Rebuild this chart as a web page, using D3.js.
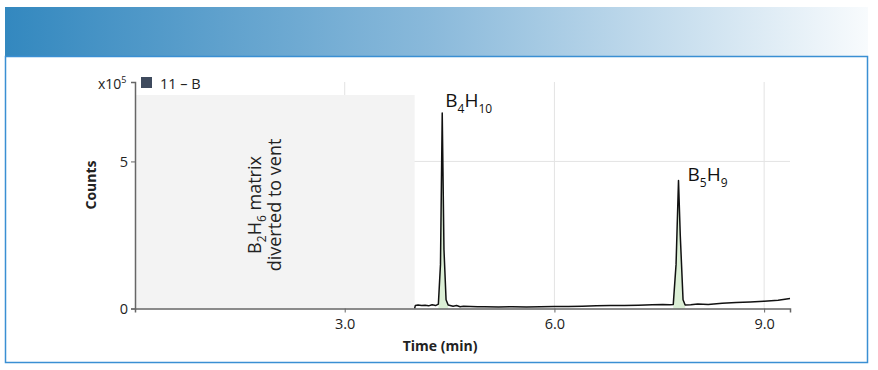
<!DOCTYPE html>
<html>
<head>
<meta charset="utf-8">
<script src="https://cdn.jsdelivr.net/npm/d3@7"></script>
<style>
  body { margin: 0; background: #fff; }
  #chart { display: block; font-family: "Open Sans", sans-serif; }
</style>
</head>
<body>
<svg id="chart" width="878" height="370"></svg>
<script>
  // retention time (min) and detector counts (x10^5)
  const time = [4.00, 4.01, 4.05, 4.10, 4.15, 4.20, 4.25, 4.30, 4.34, 4.37, 4.395, 4.42, 4.45, 4.48,
    4.55, 4.60, 4.65, 4.70, 4.80, 4.90, 5.00, 5.20, 5.40, 5.60, 5.80, 6.00, 6.20, 6.40, 6.60, 6.80,
    7.00, 7.20, 7.40, 7.55, 7.65, 7.70, 7.74, 7.775, 7.80, 7.84, 7.87, 7.95, 8.05, 8.20, 8.40, 8.60,
    8.80, 9.00, 9.20, 9.37];
  const counts = [0.0, 0.10, 0.12, 0.10, 0.11, 0.09, 0.13, 0.10, 0.15, 1.5, 6.65, 2.0, 0.3, 0.12,
    0.08, 0.10, 0.06, 0.08, 0.07, 0.06, 0.06, 0.05, 0.06, 0.05, 0.06, 0.07, 0.07, 0.08, 0.09, 0.10,
    0.10, 0.11, 0.13, 0.14, 0.13, 0.14, 1.5, 4.35, 2.5, 0.3, 0.12, 0.13, 0.15, 0.14, 0.18, 0.20,
    0.22, 0.25, 0.28, 0.34];

  const peakNames = [['B', '4', 'H', '10'], ['B', '5', 'H', '9']];
  const peakTimes = [4.395, 7.775];
  const peakWindows = [[4.34, 4.48], [7.70, 7.87]];

  const xTicks = [3.0, 6.0, 9.0];
  const yTicks = [0, 5];
  const ventWindow = [0, 4.0];
  const seriesName = '11 – B';

  const svg = d3.select('#chart');

  // header band and frame
  const grad = svg.append('defs').append('linearGradient').attr('id', 'band');
  grad.append('stop').attr('offset', '0%').attr('stop-color', '#3388bf');
  grad.append('stop').attr('offset', '50%').attr('stop-color', '#8bbadb');
  grad.append('stop').attr('offset', '100%').attr('stop-color', '#f8fbfd');
  svg.append('rect').attr('x', 5).attr('y', 7).attr('width', 863).attr('height', 50)
     .attr('fill', 'url(#band)');
  svg.append('rect').attr('x', 5.5).attr('y', 56.5).attr('width', 862).attr('height', 306)
     .attr('fill', 'none').attr('stroke', '#3a8fd3').attr('stroke-width', 1.5);

  const x = d3.scaleLinear().domain([0, 9.37]).range([135, 790]);
  const y = d3.scaleLinear().domain([0, 7.7]).range([308.5, 82]);

  // grid
  svg.append('g').selectAll('line').data(xTicks).enter().append('line')
     .attr('x1', d => x(d)).attr('x2', d => x(d)).attr('y1', y.range()[1]).attr('y2', y(0))
     .attr('stroke', '#e3e3e3');
  svg.append('g').selectAll('line').data(yTicks.filter(d => d > 0)).enter().append('line')
     .attr('x1', x(0)).attr('x2', x.range()[1]).attr('y1', d => y(d)).attr('y2', d => y(d))
     .attr('stroke', '#e3e3e3');

  // diverted region
  svg.append('rect')
     .attr('x', x(ventWindow[0])).attr('y', 95)
     .attr('width', x(ventWindow[1]) - x(ventWindow[0])).attr('height', y(0) - 95)
     .attr('fill', '#f3f3f3');

  const note = svg.append('g').attr('transform', 'translate(0,205)')
                  .attr('font-size', 18).attr('fill', '#222').attr('text-anchor', 'middle');
  const l1 = note.append('text').attr('transform', 'translate(261,0) rotate(-90)');
  l1.append('tspan').text('B');
  l1.append('tspan').attr('dy', 5).attr('font-size', 12).text('2');
  l1.append('tspan').attr('dy', -5).text('H');
  l1.append('tspan').attr('dy', 5).attr('font-size', 12).text('6');
  l1.append('tspan').attr('dy', -5).text(' matrix');
  note.append('text').attr('transform', 'translate(281,0) rotate(-90)').text('diverted to vent');

  // peak fill
  const pts = time.map((t, i) => ({ t: t, c: counts[i] }));
  const area = d3.area().x(d => x(d.t)).y0(y(0)).y1(d => y(d.c));
  peakWindows.forEach(w => {
    svg.append('path')
       .attr('d', area(pts.filter(d => d.t >= w[0] && d.t <= w[1])))
       .attr('fill', '#dcefd6');
  });

  const line = d3.line().x(d => x(d.t)).y(d => y(d.c));
  svg.append('path').attr('d', line(pts))
     .attr('fill', 'none').attr('stroke', '#111').attr('stroke-width', 1.5)
     .attr('stroke-linejoin', 'round');

  // axes
  const xAxis = svg.append('g').attr('transform', `translate(0,${y(0)})`)
                   .call(d3.axisBottom(x).tickValues(xTicks).tickFormat(d3.format('.1f'))
                           .tickSizeOuter(0).tickSize(4).tickPadding(6));
  const yAxis = svg.append('g').attr('transform', `translate(${x(0)},0)`)
                   .call(d3.axisLeft(y).tickValues(yTicks).tickSizeOuter(0).tickSize(4).tickPadding(3));
  [xAxis, yAxis].forEach(a => {
    a.select('.domain').attr('stroke', '#666').attr('stroke-width', 1.5);
    a.selectAll('.tick line').attr('stroke', '#666');
    a.selectAll('.tick text').attr('font-size', 14.5).attr('fill', '#222')
     .attr('font-family', '"Open Sans", sans-serif');
  });

  svg.append('text').attr('x', 440).attr('y', 351).attr('text-anchor', 'middle')
     .attr('font-size', 14).attr('font-weight', 'bold').attr('fill', '#222').text('Time (min)');
  svg.append('text').attr('transform', 'translate(96,185) rotate(-90)').attr('text-anchor', 'middle')
     .attr('font-size', 14).attr('font-weight', 'bold').attr('fill', '#222').text('Counts');

  // scale label and legend
  const mult = svg.append('text').attr('x', 98).attr('y', 89).attr('font-size', 14).attr('fill', '#222');
  mult.append('tspan').text('x10');
  mult.append('tspan').attr('dy', -6).attr('font-size', 9).text('5');
  svg.append('rect').attr('x', 141).attr('y', 77).attr('width', 11).attr('height', 11).attr('fill', '#3e4a5d');
  svg.append('text').attr('x', 160).attr('y', 89).attr('font-size', 14.5).attr('fill', '#222').text(seriesName);

  // peak labels
  const labelShift = [[3, -6], [9, 0]];
  peakNames.forEach((p, i) => {
    const t = svg.append('text')
                 .attr('x', x(peakTimes[i]) + labelShift[i][0])
                 .attr('y', y(counts[time.indexOf(peakTimes[i])]) + labelShift[i][1])
                 .attr('font-size', 19).attr('fill', '#111');
    t.append('tspan').text(p[0]);
    t.append('tspan').attr('dy', 6).attr('font-size', 12).text(p[1]);
    t.append('tspan').attr('dy', -6).text(p[2]);
    t.append('tspan').attr('dy', 6).attr('font-size', 12).text(p[3]);
  });
</script>
</body>
</html>
